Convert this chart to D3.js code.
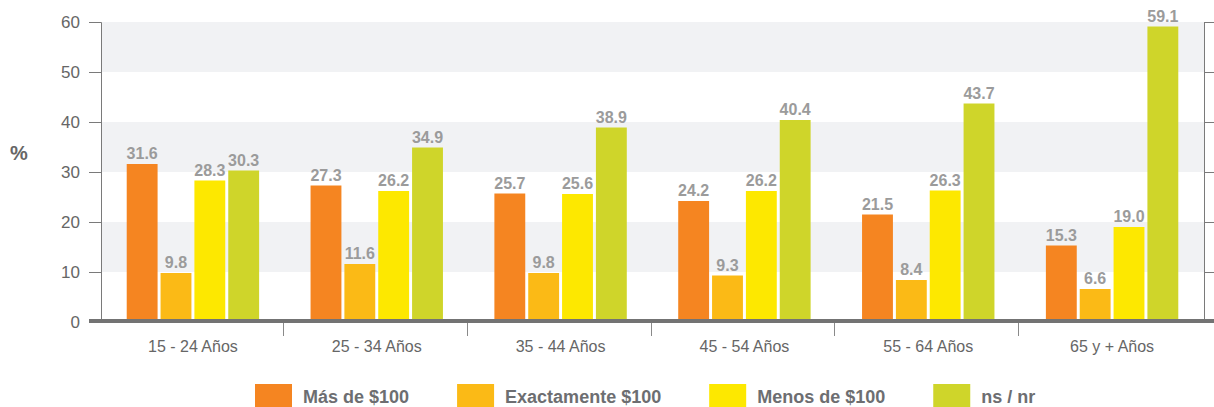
<!DOCTYPE html>
<html><head><meta charset="utf-8">
<script src="https://cdn.jsdelivr.net/npm/d3@7"></script>
<style>body{margin:0;background:#fff}svg{display:block;font-family:Arial,"Liberation Sans",sans-serif}</style>
</head><body><svg id="c" width="1214" height="407"></svg>
<script>
const categories = ["15 - 24 Años","25 - 34 Años","35 - 44 Años","45 - 54 Años","55 - 64 Años","65 y + Años"];
const seriesNames = ["Más de $100","Exactamente $100","Menos de $100","ns / nr"];
const masDe100 = [31.6,27.3,25.7,24.2,21.5,15.3];
const exactamente100 = [9.8,11.6,9.8,9.3,8.4,6.6];
const menosDe100 = [28.3,26.2,25.6,26.2,26.3,19.0];
const nsNr = [30.3,34.9,38.9,40.4,43.7,59.1];
const yTicks = [0,10,20,30,40,50,60];
const colors = ["#f58521","#fbba16","#fde800","#cfd52a"];
const seriesValues = [masDe100, exactamente100, menosDe100, nsNr];

const svg = d3.select("#c");
const mLeft = 101, mRight = 1204, mTop = 22, mBottom = 322;
const y = d3.scaleLinear().domain([0,60]).range([mBottom, mTop]);
const x0 = d3.scaleBand().domain(categories).range([mLeft, mRight]).padding(0);
const x1 = d3.scaleBand().domain(seriesNames).range([0, x0.bandwidth()]).paddingInner(0.088).paddingOuter(0.76);

// bands
const bands = [[10,20],[30,40],[50,60]];
svg.append("g").selectAll("rect").data(bands).join("rect")
  .attr("x", mLeft).attr("width", mRight-mLeft)
  .attr("y", d=>y(d[1])).attr("height", d=>y(d[0])-y(d[1]))
  .attr("fill","#f1f2f4");

// left axis
const ax = svg.append("g").attr("transform",`translate(${mLeft},0)`)
  .call(d3.axisLeft(y).tickValues(yTicks).tickSize(12).tickPadding(9));
ax.select(".domain").attr("stroke","#7a7a7a");
ax.selectAll(".tick line").attr("stroke","#7a7a7a");
ax.selectAll(".tick text").attr("fill","#666").style("font-size","17px").style("font-family","Arial, 'Liberation Sans', sans-serif");

// right axis
const ar = svg.append("g").attr("transform",`translate(${mRight},0)`)
  .call(d3.axisRight(y).tickValues(yTicks).tickSize(12).tickFormat(""));
ar.select(".domain").attr("stroke","#7a7a7a");
ar.selectAll(".tick line").attr("stroke","#7a7a7a");

// bars
const groups = svg.append("g").selectAll("g").data(categories).join("g")
  .attr("transform", d=>`translate(${x0(d)},0)`);
groups.each(function(cat, ci){
  const g = d3.select(this);
  const vals = seriesNames.map((s,si)=>({s, si, v: seriesValues[si][ci]}));
  g.selectAll("rect").data(vals).join("rect")
    .attr("x", d=>x1(d.s)).attr("width", x1.bandwidth())
    .attr("y", d=>y(d.v)).attr("height", d=>y(0)-y(d.v))
    .attr("fill", d=>colors[d.si]);
  g.selectAll("text").data(vals).join("text")
    .attr("x", d=>x1(d.s)+x1.bandwidth()/2).attr("y", d=>y(d.v)-5)
    .attr("text-anchor","middle").attr("fill","#9b9b9b")
    .style("font-size","16px").style("font-weight","bold")
    .text(d=>d.v.toFixed(1));
});

// baseline
svg.append("line").attr("x1",89).attr("x2",1214).attr("y1",y(0)-1).attr("y2",y(0)-1)
  .attr("stroke","#737373").attr("stroke-width",4);

// x ticks between groups
svg.append("g").selectAll("line").data(categories.slice(1)).join("line")
  .attr("x1", d=>Math.round(x0(d))-1.5).attr("x2", d=>Math.round(x0(d))-1.5)
  .attr("y1", y(0)+1).attr("y2", y(0)+14).attr("stroke","#8a8a8a").attr("stroke-width",1);

// x labels
svg.append("g").selectAll("text").data(categories).join("text")
  .attr("x", d=>x0(d)+x0.bandwidth()/2).attr("y", 352)
  .attr("text-anchor","middle").attr("fill","#666").style("font-size","16px")
  .text(d=>d);

// % label
svg.append("text").attr("x",10).attr("y",160).attr("fill","#666")
  .style("font-size","20px").style("font-weight","bold").text("%");

// legend
const lg = svg.append("g");
let lx = 255;
seriesNames.forEach((s,i)=>{
  lg.append("rect").attr("x",lx).attr("y",384).attr("width",37).attr("height",24).attr("fill",colors[i]);
  const t = lg.append("text").attr("x",lx+48).attr("y",403).attr("fill","#6d6e71")
    .style("font-size","18px").style("font-weight","bold").text(s);
  lx += 48 + t.node().getComputedTextLength() + 48;
});
</script></body></html>
